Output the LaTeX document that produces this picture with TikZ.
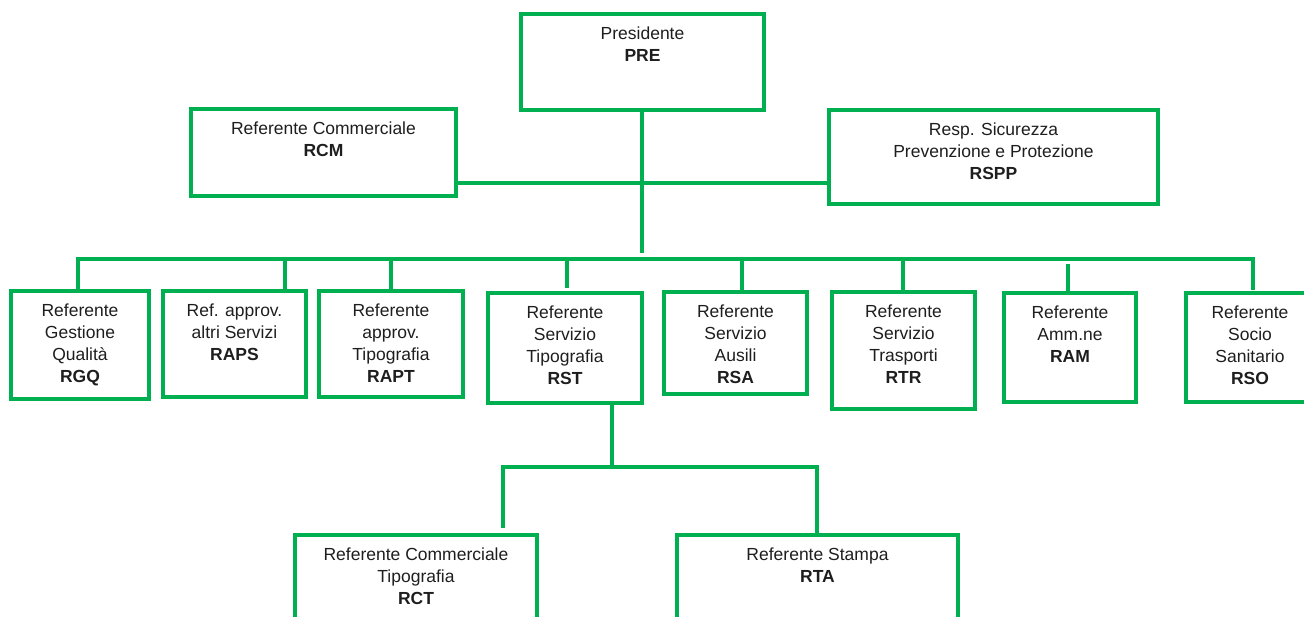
\documentclass[tikz,border=0pt]{standalone}
\usepackage{fontspec}
\setmainfont{Liberation Sans}
\usetikzlibrary{calc}
\definecolor{orggreen}{RGB}{0,176,80}
\definecolor{orgtext}{RGB}{30,30,30}
\tikzset{
  orgframe/.style={draw=orggreen, line width=3.2pt, rectangle, inner sep=0pt, outer sep=0pt},
  orgtxt/.style={align=center, inner sep=0pt, anchor=north, text=orgtext, font=\fontsize{17.5}{22}\selectfont},
  orglink/.style={draw=orggreen, line width=3.2pt}
}
\newcommand\orgbox[6]{%
  \node[orgframe, minimum width={(#4-#2)*1pt}, minimum height={(#5-#3)*1pt}] (#1) at ({(#2+#4)/2},{(#3+#5)/2}) {};
  \node[orgtxt] (#1-t) at ([yshift=-13pt]#1.north) {#6};}
\begin{document}
\begin{tikzpicture}[x=1pt,y=-1pt]
\useasboundingbox (0,0) rectangle (1304,617);
\clip (0,0) rectangle (1304,617);
% top level
\orgbox{PRE}{521}{14}{764}{110}{Presidente\\\textbf{PRE}}
\orgbox{RCM}{191}{109}{456}{196}{Referente Commerciale\\\textbf{RCM}}
\orgbox{RSPP}{829}{110}{1158}{204}{Resp. Sicurezza\\Prevenzione e Protezione\\\textbf{RSPP}}
% second level
\orgbox{RGQ}{11}{291}{149}{399}{Referente\\Gestione\\Qualità\\\textbf{RGQ}}
\orgbox{RAPS}{163}{291}{306}{397}{Ref. approv.\\altri Servizi\\\textbf{RAPS}}
\orgbox{RAPT}{319}{291}{463}{397}{Referente\\approv.\\Tipografia\\\textbf{RAPT}}
\orgbox{RST}{488}{293}{642}{403}{Referente\\Servizio\\Tipografia\\\textbf{RST}}
\orgbox{RSA}{664}{292}{807}{394}{Referente\\Servizio\\Ausili\\\textbf{RSA}}
\orgbox{RTR}{832}{292}{975}{409}{Referente\\Servizio\\Trasporti\\\textbf{RTR}}
\orgbox{RAM}{1004}{293}{1136}{402}{Referente\\Amm.ne\\\textbf{RAM}}
\orgbox{RSO}{1186}{293}{1314}{402}{Referente\\Socio\\Sanitario\\\textbf{RSO}}
% third level
\orgbox{RCT}{295}{535}{537}{650}{Referente Commerciale\\Tipografia\\\textbf{RCT}}
\orgbox{RTA}{677}{535}{958}{650}{Referente Stampa\\\textbf{RTA}}
% connectors top
\coordinate (hub) at (642,253);
\coordinate (mid) at (642,183);
\draw[orglink] (hub |- PRE.south) -- (hub);
\draw[orglink] (RCM.east |- mid) -- (RSPP.west |- mid);
% bus
\coordinate (b1) at (78,259);
\coordinate (b2) at (285,259);
\coordinate (b3) at (391,259);
\coordinate (b4) at (567,259);
\coordinate (b5) at (742,259);
\coordinate (b6) at (903,259);
\coordinate (b7) at (1068,259);
\coordinate (b8) at (1253,259);
\draw[orglink] ([xshift=-1.6pt]b1) -- ([xshift=1.6pt]b8);
\draw[orglink] (b1) -- (b1 |- RGQ.north);
\draw[orglink] (b2) -- (b2 |- RAPS.north);
\draw[orglink] (b3) -- (b3 |- RAPT.north);
\draw[orglink, shorten >=5pt] (b4) -- (b4 |- RST.north);
\draw[orglink] (b5) -- (b5 |- RSA.north);
\draw[orglink] (b6) -- (b6 |- RTR.north);
\draw[orglink, shorten <=5pt] (b7) -- (b7 |- RAM.north);
\draw[orglink, shorten >=3pt] (b8) -- (b8 |- RSO.north);
% sub tree
\coordinate (s0) at (612,467);
\coordinate (sL) at (503,467);
\coordinate (sR) at (817,467);
\draw[orglink] (s0 |- RST.south) -- (s0);
\draw[orglink] ([xshift=-1.6pt]sL) -- ([xshift=1.6pt]sR);
\draw[orglink, shorten >=7pt] (sL) -- (sL |- RCT.north);
\draw[orglink] (sR) -- (sR |- RTA.north);
\end{tikzpicture}
\end{document}
